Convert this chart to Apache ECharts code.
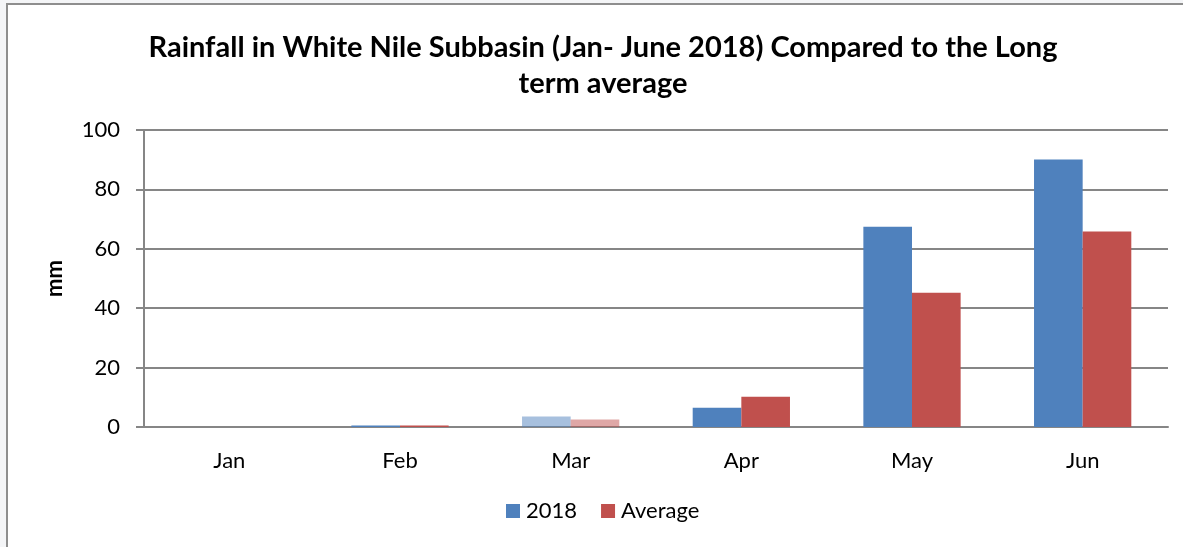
<!DOCTYPE html>
<html>
<head>
<meta charset="utf-8">
<script src="https://cdn.jsdelivr.net/npm/echarts@6/dist/echarts.min.js"></script>
<style>
    html, body { margin: 0; padding: 0; background: #f4f5f7; }
    #frame { position: absolute; left: 6px; top: 3px; width: 1300px; height: 700px; border: 2px solid #8e8e8e; background: #fff; }
    #main { position: absolute; left: 0; top: 0; width: 1183px; height: 547px; }
</style>
</head>
<body>
<div id="frame"></div>
<div id="main"></div>
<script>
    // data
    var months = ['Jan', 'Feb', 'Mar', 'Apr', 'May', 'Jun'];
    var rain2018 = [0, 0.5, 3.5, 6.5, 67.4, 90.1];
    var rainAvg = [0, 0.5, 2.5, 10.2, 45.2, 65.8];
    var yTicks = [0, 20, 40, 60, 80, 100];

    var blue = '#4F81BD', red = '#C0504D', gray = '#868686';
    var font = 'Lato, "Liberation Sans", sans-serif';

    // Mar bars are drawn faded in the original
    var fade = function (arr) {
        return arr.map(function (v, i) {
            return months[i] == 'Mar' ? {value: v, itemStyle: {opacity: 0.5}} : v;
        });
    };

    var chart = echarts.init(document.getElementById('main'), null, {renderer: 'canvas'});
    chart.setOption({
        backgroundColor: 'transparent',
        animation: false,
        title: {
            text: 'Rainfall in White Nile Subbasin (Jan- June 2018) Compared to the Long\nterm average',
            left: 603, // centre of the title, a bit right of the page centre
            top: 30,
            padding: 0,
            textAlign: 'center',
            textStyle: {fontFamily: font, fontWeight: 'bold', fontSize: 29, lineHeight: 36, color: '#000'}
        },
        legend: {
            data: ['2018', 'Average'],
            left: 506,
            top: 500,
            padding: 0,
            itemWidth: 14,
            itemHeight: 14,
            itemGap: 24,
            icon: 'rect',
            textStyle: {fontFamily: font, fontSize: 22, color: '#000', padding: [0, 0, 0, 1]}
        },
        grid: {left: 144, right: 15, top: 130, bottom: 120, containLabel: false},
        xAxis: {
            type: 'category',
            data: months,
            axisLine: {lineStyle: {color: gray, width: 2}},
            axisTick: {show: false},
            axisLabel: {margin: 23, fontFamily: font, fontSize: 22, color: '#000'}
        },
        yAxis: {
            type: 'value',
            min: yTicks[0],
            max: yTicks[yTicks.length - 1],
            interval: 20,
            name: 'mm',
            nameLocation: 'middle',
            nameRotate: 90,
            nameGap: 78,
            nameTextStyle: {fontFamily: font, fontWeight: 'bold', fontSize: 22, color: '#000'},
            axisLine: {show: true, lineStyle: {color: gray, width: 2}},
            axisTick: {show: true, length: 8, lineStyle: {color: gray, width: 2}},
            axisLabel: {margin: 24, fontFamily: font, fontSize: 22, color: '#000'},
            splitLine: {lineStyle: {color: gray, width: 2}}
        },
        series: [
            {
                name: '2018',
                type: 'bar',
                data: fade(rain2018),
                barGap: '0%',
                barCategoryGap: '43%',
                itemStyle: {color: blue}
            },
            {
                name: 'Average',
                type: 'bar',
                data: fade(rainAvg),
                barGap: '0%',
                barCategoryGap: '43%',
                itemStyle: {color: red}
            }
        ]
    });
</script>
</body>
</html>
